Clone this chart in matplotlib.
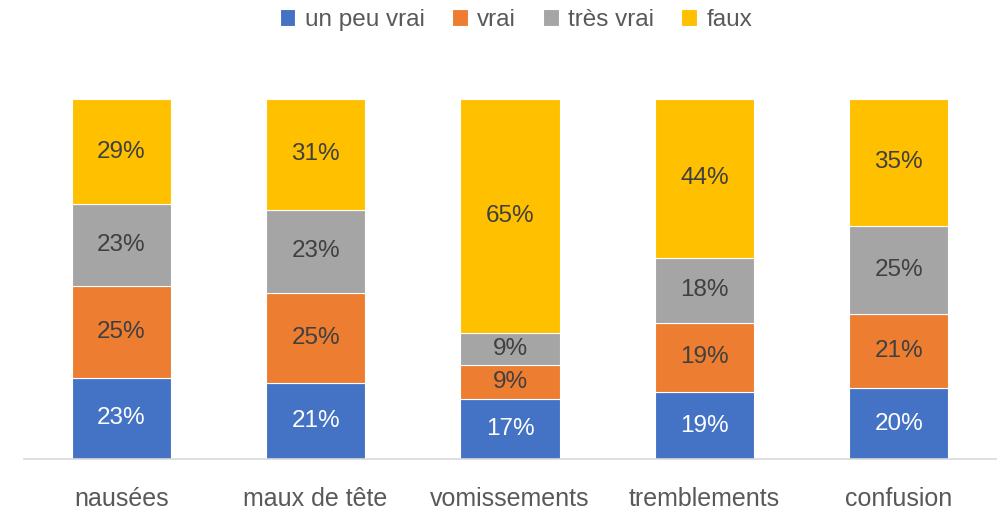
import matplotlib
matplotlib.use("Agg")
import matplotlib.pyplot as plt
import numpy as np

plt.rcParams['font.family'] = ['Liberation Sans', 'DejaVu Sans']

CATEGORIES = ["nausées", "maux de tête", "vomissements", "tremblements", "confusion"]
SERIES = ["un peu vrai", "vrai", "très vrai", "faux"]
COLORS = ["#4472C4", "#ED7D31", "#A5A5A5", "#FFC000"]
TEXT_COLORS = ["white", "#404040", "#404040", "#404040"]

# percentages per series, one value per category
UN_PEU_VRAI = [22.6, 21.1, 16.7, 18.6, 19.6]
VRAI = [25.4, 25.0, 9.4, 19.2, 20.6]
TRES_VRAI = [22.8, 23.1, 8.9, 18.1, 24.6]
FAUX = [29.2, 30.8, 65.0, 44.1, 35.2]

values = np.array([UN_PEU_VRAI, VRAI, TRES_VRAI, FAUX])
shares = values / values.sum(axis=0)

fig = plt.figure(figsize=(10, 5.12), dpi=100)
ax = fig.add_axes([0.024, 1 - 459 / 512, 0.972, 360 / 512])

x = np.arange(len(CATEGORIES))
bottom = np.zeros(len(CATEGORIES))
for i, name in enumerate(SERIES):
    ax.bar(x, shares[i], width=0.51, bottom=bottom, color=COLORS[i], label=name,
           edgecolor="white", linewidth=0.8, zorder=2)
    for xi, (b, s, v) in enumerate(zip(bottom, shares[i], values[i])):
        ax.text(xi, b + s / 2, f"{round(v):d}%", ha="center", va="center",
                fontsize=17.5, color=TEXT_COLORS[i], zorder=3)
    bottom += shares[i]

ax.set_xlim(-0.5, len(CATEGORIES) - 0.5)
ax.set_ylim(0, 1)
ax.set_yticks([])
for s in ["top", "right", "left"]:
    ax.spines[s].set_visible(False)
ax.spines["bottom"].set_color("#D9D9D9")
ax.spines["bottom"].set_linewidth(1.2)
ax.set_xticks(x)
ax.set_xticklabels(CATEGORIES, fontsize=18, color="#595959")
ax.tick_params(axis="x", length=0, pad=20)

leg = fig.legend(loc="upper center", bbox_to_anchor=(0.516, 1.025), ncol=4, frameon=False,
                 fontsize=17.5, handlelength=0.65, handleheight=0.65, handletextpad=0.4,
                 columnspacing=1.1)
for t in leg.get_texts():
    t.set_color("#595959")

fig.savefig("out.png", dpi=100)
